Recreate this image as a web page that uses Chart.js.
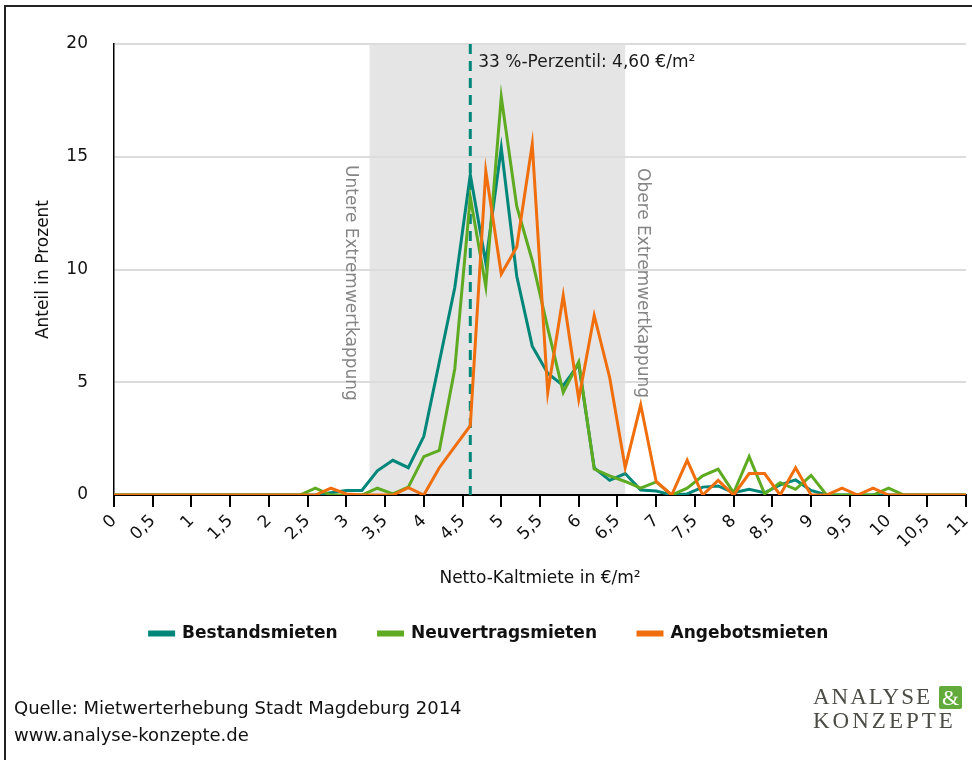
<!DOCTYPE html>
<html>
<head>
<meta charset="utf-8">
<script src="https://cdn.jsdelivr.net/npm/chart.js@4.4.1/dist/chart.umd.min.js"></script>
<style>
  body { margin: 0; background: #fff; font-family: "DejaVu Sans", sans-serif; }
  #wrap { position: relative; width: 972px; height: 760px; overflow: hidden; background: #fff; }
  #frame { position: absolute; left: 4px; top: 5px; width: 980px; height: 780px;
           border-top: 2px solid #222; border-left: 2px solid #222; }
  #myChart { position: absolute; left: 0; top: 0; }
  .source { position: absolute; left: 14px; top: 694px; font-size: 18px; line-height: 27px; color: #111; }
  .logo { position: absolute; left: 813px; font-family: "Liberation Serif", serif;
          font-size: 23px; line-height: 24px; color: #4c4c47; white-space: nowrap; }
  .amp { position: absolute; left: 939px; top: 686px; width: 23px; height: 23px; background: #62aa3c;
         border-radius: 2px; color: #fff; font-family: "Liberation Serif", serif; font-size: 22px;
         line-height: 23px; text-align: center; }
</style>
</head>
<body>
<div id="wrap">
  <canvas id="myChart" width="972" height="652"></canvas>
  <div id="frame"></div>
  <div class="source">Quelle: Mietwerterhebung Stadt Magdeburg 2014<br>www.analyse-konzepte.de</div>
  <div class="logo" style="top:685px;letter-spacing:2px;">ANALYSE</div>
  <div class="logo" style="top:709px;letter-spacing:3px;">KONZEPTE</div>
  <div class="amp">&amp;</div>
</div>
<script>
// Netto-Kaltmiete in €/m² (0,20-€-Schritte)
const rentSteps = [0, 0.2, 0.4, 0.6, 0.8, 1, 1.2, 1.4, 1.6, 1.8, 2, 2.2, 2.4, 2.6, 2.8, 3, 3.2, 3.4, 3.6, 3.8,
  4, 4.2, 4.4, 4.6, 4.8, 5, 5.2, 5.4, 5.6, 5.8, 6, 6.2, 6.4, 6.6, 6.8, 7, 7.2, 7.4, 7.6, 7.8,
  8, 8.2, 8.4, 8.6, 8.8, 9, 9.2, 9.4, 9.6, 9.8, 10, 10.2, 10.4, 10.6, 10.8, 11];

// Anteil in Prozent
const bestandsmieten = [0, 0, 0, 0, 0, 0, 0, 0, 0, 0, 0, 0, 0, 0, 0.1, 0.2, 0.2, 1.07, 1.54, 1.21,
  2.6, 5.9, 9.2, 14.2, 10.3, 15.4, 9.7, 6.6, 5.4, 4.85, 5.8, 1.2, 0.65, 0.95, 0.22, 0.18, 0, 0.05, 0.35, 0.4,
  0.1, 0.25, 0.1, 0.45, 0.67, 0.2, 0, 0, 0, 0, 0, 0, 0, 0, 0, 0];
const neuvertragsmieten = [0, 0, 0, 0, 0, 0, 0, 0, 0, 0, 0, 0, 0, 0.3, 0, 0, 0, 0.3, 0.05, 0.35,
  1.7, 1.98, 5.6, 13.2, 9.25, 17.65, 12.8, 10.4, 7.4, 4.55, 5.9, 1.15, 0.85, 0.6, 0.3, 0.58, 0, 0.3, 0.85, 1.15,
  0.1, 1.7, 0.05, 0.55, 0.25, 0.87, 0, 0, 0, 0, 0.3, 0, 0, 0, 0, 0];
const angebotsmieten = [0, 0, 0, 0, 0, 0, 0, 0, 0, 0, 0, 0, 0, 0, 0.3, 0.05, 0, 0, 0, 0.33,
  0, 1.21, 2.15, 3.07, 14.37, 9.8, 11.0, 15.56, 4.55, 8.84, 4.25, 7.96, 5.2, 1.21, 4.0, 0.6, 0, 1.54, 0, 0.65,
  0, 0.95, 0.95, 0, 1.21, 0, 0, 0.3, 0, 0.3, 0, 0, 0, 0, 0, 0];

// Extremwertkappung und Perzentil
const lowerCap = 3.3;
const upperCap = 6.6;
const percentile33 = 4.6;

const teal = '#00877a';
const green = '#5eab22';
const orange = '#f06e0c';

const toPoints = (values) => values.map((v, i) => ({ x: rentSteps[i], y: v }));
const deComma = (v) => String(v).replace('.', ',');

const annotations = {
  id: 'annotations',
  afterLayout(chart) {
    // legend sits a little left of centre in the original
    chart.legend.left -= 9;
    chart.legend.right -= 9;
  },
  beforeDraw(chart) {
    const { ctx, chartArea, scales: { x } } = chart;
    const left = x.getPixelForValue(lowerCap);
    const right = x.getPixelForValue(upperCap);
    ctx.save();
    ctx.fillStyle = '#e5e5e5';
    ctx.fillRect(left, chartArea.top, right - left, chartArea.bottom - chartArea.top);
    ctx.restore();
  },
  beforeDatasetsDraw(chart) {
    const { ctx, chartArea, scales: { x } } = chart;
    const px = x.getPixelForValue(percentile33);
    ctx.save();
    ctx.strokeStyle = teal;
    ctx.lineWidth = 3;
    ctx.setLineDash([10, 7]);
    ctx.beginPath();
    ctx.moveTo(px, chartArea.top);
    ctx.lineTo(px, chartArea.bottom);
    ctx.stroke();
    ctx.restore();
  },
  afterDraw(chart) {
    const { ctx, chartArea, scales: { x } } = chart;
    const px = x.getPixelForValue(percentile33);
    ctx.save();
    ctx.font = '17px "DejaVu Sans"';
    ctx.fillStyle = '#1a1a1a';
    ctx.textBaseline = 'middle';
    ctx.textAlign = 'left';
    ctx.fillText('33 %-Perzentil: ' + deComma(percentile33.toFixed(2)) + ' €/m²', px + 8, chartArea.top + 19);

    ctx.fillStyle = '#858585';
    const rotated = (text, cx, top) => {
      ctx.save();
      ctx.translate(cx, top);
      ctx.rotate(Math.PI / 2);
      ctx.fillText(text, 0, 0);
      ctx.restore();
    };
    rotated('Untere Extremwertkappung', x.getPixelForValue(lowerCap) - 19, 165);
    rotated('Obere Extremwertkappung', x.getPixelForValue(upperCap) + 17, 168);
    ctx.restore();
  }
};

const ctx = document.getElementById('myChart').getContext('2d');

const myChart = new Chart(ctx, {
  type: 'line',
  data: {
    datasets: [
      { label: 'Bestandsmieten', data: toPoints(bestandsmieten), borderColor: teal, backgroundColor: teal, order: 2 },
      { label: 'Neuvertragsmieten', data: toPoints(neuvertragsmieten), borderColor: green, backgroundColor: green, order: 1 },
      { label: 'Angebotsmieten', data: toPoints(angebotsmieten), borderColor: orange, backgroundColor: orange, order: 0 },
    ],
  },
  options: {
    responsive: false,
    animation: false,
    layout: { padding: { left: 30, top: 44, right: 6, bottom: 0 } },
    elements: {
      line: { borderWidth: 3, tension: 0 },
      point: { radius: 0, hoverRadius: 0 },
    },
    plugins: {
      tooltip: { enabled: false },
      legend: {
        position: 'bottom',
        labels: {
          boxWidth: 24,
          boxHeight: 3,
          padding: 41,
          color: '#111',
          font: { family: 'DejaVu Sans', size: 17, weight: 'bold' },
          sort: (a, b) => a.datasetIndex - b.datasetIndex,
        },
      },
    },
    scales: {
      x: {
        type: 'linear',
        min: 0,
        max: 11,
        afterFit: (scale) => { scale.height = 89; scale.paddingRight = 6; scale.paddingLeft = 0; },
        border: { color: '#000', width: 2 },
        grid: { drawOnChartArea: false, drawTicks: true, tickLength: 12, color: '#000', lineWidth: 2 },
        ticks: {
          stepSize: 0.5,
          autoSkip: false,
          maxRotation: 45,
          minRotation: 45,
          padding: 4,
          color: '#111',
          font: { family: 'DejaVu Sans', size: 17 },
          callback: (v) => deComma(v),
        },
        title: {
          display: true,
          text: 'Netto-Kaltmiete in €/m²',
          color: '#111',
          padding: { top: 0, bottom: -3 },
          font: { family: 'DejaVu Sans', size: 17, lineHeight: 1 },
        },
      },
      y: {
        min: 0,
        max: 20,
        afterFit: (scale) => { scale.width = 84; },
        border: { color: '#000', width: 1.5 },
        grid: { color: '#dcdcdc', lineWidth: 2, drawTicks: false },
        ticks: {
          stepSize: 5,
          padding: 26,
          color: '#111',
          font: { family: 'DejaVu Sans', size: 17 },
        },
        title: {
          display: true,
          text: 'Anteil in Prozent',
          color: '#111',
          padding: { top: 3, bottom: 0 },
          font: { family: 'DejaVu Sans', size: 17 },
        },
      },
    },
  },
  plugins: [annotations],
});
</script>
</body>
</html>
